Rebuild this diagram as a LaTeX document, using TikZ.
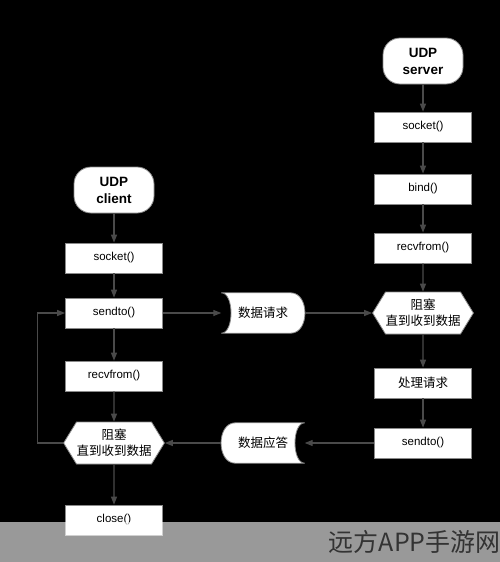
\documentclass[tikz,border=0pt]{standalone}
\usepackage{fontspec}
\setmainfont{Liberation Sans}
\newfontfamily\cjk{Noto Sans CJK SC}
\usetikzlibrary{arrows.meta,shapes.symbols,backgrounds}
\definecolor{edgegray}{HTML}{8A8A8A}
\definecolor{arrowgray}{HTML}{4A4A4A}
\definecolor{wmtext}{HTML}{333333}
\begin{document}
\begin{tikzpicture}[x=1pt,y=-1pt,
  box/.style={rectangle,draw=edgegray,line width=0.8pt,fill=white,minimum width=97pt,minimum height=30pt,inner sep=0pt,font=\fontsize{11.5}{13}\selectfont},
  term/.style={rectangle,rounded corners=17pt,draw=edgegray,line width=0.8pt,fill=white,minimum width=80pt,minimum height=46pt,inner sep=0pt,align=center,font=\fontsize{13.5}{17}\selectfont\bfseries},
  hexa/.style={signal,signal to=west and east,signal pointer angle=117,draw=edgegray,line width=0.8pt,fill=white,minimum width=99pt,minimum height=42pt,inner sep=0pt,align=center,font=\cjk\fontsize{12.5}{16}\selectfont},
  cjkbox/.style={box,font=\cjk\fontsize{12.5}{14}\selectfont},
  datanode/.style={rectangle,minimum width=83pt,minimum height=40pt,inner sep=0pt,font=\cjk\fontsize{12.5}{14}\selectfont},
  datashape/.style={draw=edgegray,line width=0.8pt,fill=white},
  flow/.style={draw=arrowgray,line width=1.2pt,-{Triangle[length=8pt,width=6pt]}}]
\useasboundingbox (0,0) rectangle (500,562);

% server column
\node[term] (sst) at (423,61) {UDP\\server};
\node[box] (ssock) at (423,127) {socket()};
\node[box] (sbind) at (423,189) {bind()};
\node[box] (srecv) at (423,248) {recvfrom()};
\node[hexa] (sblock) at (423,313) {阻塞\\直到收到数据};
\node[cjkbox] (sproc) at (423,383) {处理请求};
\node[box] (ssend) at (423,443) {sendto()};

% client column
\node[term] (cst) at (114,190) {UDP\\client};
\node[box] (csock) at (114,258) {socket()};
\node[box] (csend) at (114,313) {sendto()};
\node[box] (crecv) at (114,376) {recvfrom()};
\node[hexa] (cblock) at (114,443) {阻塞\\直到收到数据};
\node[box] (cclose) at (114,520) {close()};

% data nodes
\node[datanode] (dreq) at (263,313) {数据请求};
\node[datanode] (dresp) at (263,443) {数据应答};

\begin{scope}[on background layer]
  \fill[black] (0,0) rectangle (500,562);
  \draw[datashape] (dreq.north west) -- ([xshift=-14pt]dreq.north east)
    .. controls ([xshift=5pt]dreq.north east) and ([xshift=5pt]dreq.south east) .. ([xshift=-14pt]dreq.south east)
    -- (dreq.south west)
    .. controls ([xshift=13pt]dreq.south west) and ([xshift=13pt]dreq.north west) .. cycle;
  \draw[datashape] (dresp.north east) -- ([xshift=14pt]dresp.north west)
    .. controls ([xshift=-5pt]dresp.north west) and ([xshift=-5pt]dresp.south west) .. ([xshift=14pt]dresp.south west)
    -- (dresp.south east)
    .. controls ([xshift=-13pt]dresp.south east) and ([xshift=-13pt]dresp.north east) .. cycle;
\end{scope}

% server arrows
\draw[flow] (sst) -- (ssock);
\draw[flow] (ssock) -- (sbind);
\draw[flow] (sbind) -- (srecv);
\draw[flow] (srecv) -- (sblock);
\draw[flow] (sblock) -- (sproc);
\draw[flow] (sproc) -- (ssend);

% client arrows
\draw[flow] (cst) -- (csock);
\draw[flow] (csock) -- (csend);
\draw[flow] (csend) -- (crecv);
\draw[flow] (crecv) -- (cblock);
\draw[flow] (cblock) -- (cclose);
\draw[flow] (cblock.west) -- ++(-26,0) |- (csend.west);

% exchange arrows
\draw[flow] (csend.east) -- (dreq.west);
\draw[flow] (dreq.east) -- (sblock.west);
\draw[flow] (ssend.west) -- (dresp.east);
\draw[flow] (dresp.west) -- (cblock.east);

% watermark strip
\fill[white,fill opacity=0.6] (0,522) rectangle (500,562);
\node[anchor=east,inner sep=0pt,text=wmtext,font=\cjk\fontsize{25}{25}\selectfont] (wm) at (501,542) {远方APP手游网};
\end{tikzpicture}
\end{document}
